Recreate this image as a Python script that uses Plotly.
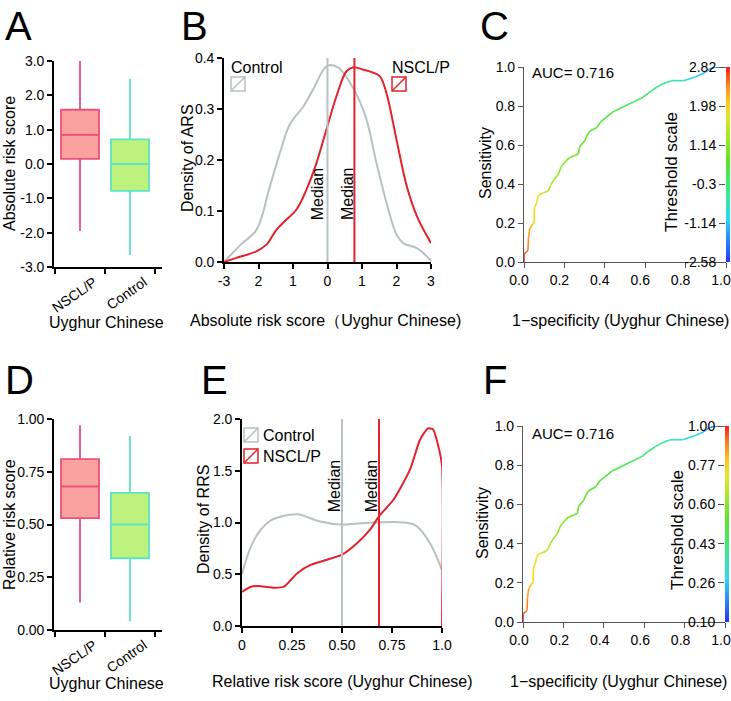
import numpy as np
import plotly.graph_objects as go
from plotly.colors import sample_colorscale

W, H = 731, 701
FONT = "Arial, Liberation Sans, sans-serif"

# ---------------- data ----------------
groups = ["NSCL/P", "Control"]
# Panel A: absolute risk score boxes
ars_q1 = [0.15, -0.78]
ars_med = [0.85, 0.0]
ars_q3 = [1.58, 0.72]
ars_lo = [-1.95, -2.65]
ars_hi = [3.0, 2.48]
ars_ticks = [-3, -2, -1, 0, 1, 2, 3]
ars_ticktext = ["-3.0", "-2.0", "-1.0", "0.0", "1.0", "2.0", "3.0"]

# Panel D: relative risk score boxes
rrs_q1 = [0.53, 0.34]
rrs_med = [0.68, 0.50]
rrs_q3 = [0.81, 0.65]
rrs_lo = [0.13, 0.04]
rrs_hi = [0.97, 0.92]
rrs_ticks = [0, 0.25, 0.5, 0.75, 1.0]
rrs_ticktext = ["0.00", "0.25", "0.50", "0.75", "1.00"]

# Panel B: density of ARS
b_ctrl_x = [-3.0, -2.5, -2.06, -1.67, -1.38, -1.09, -0.7, -0.42, 0.0, 0.33, 0.71, 1.1, 1.42, 1.71, 2.0, 2.2, 2.59, 3.0]
b_ctrl_y = [0.0, 0.035, 0.063, 0.148, 0.214, 0.27, 0.305, 0.338, 0.385, 0.38, 0.345, 0.286, 0.194, 0.116, 0.054, 0.037, 0.027, 0.003]
b_case_x = [-3.0, -2.64, -2.06, -1.77, -1.48, -1.24, -0.9, -0.61, -0.32, -0.03, 0.26, 0.55, 0.75, 1.04, 1.33, 1.52, 1.71, 2.0, 2.3, 2.59, 3.0]
b_case_y = [0.0, 0.008, 0.021, 0.034, 0.063, 0.08, 0.103, 0.142, 0.194, 0.26, 0.325, 0.374, 0.382, 0.377, 0.371, 0.364, 0.331, 0.24, 0.148, 0.09, 0.037]
b_medians = [0.0, 0.78]
b_xticks = [-3, -2, -1, 0, 1, 2, 3]
b_xticktext = ["-3", "2", "1", "0", "1", "2", "3"]
b_yticks = [0.0, 0.1, 0.2, 0.3, 0.4]

# Panel E: density of RRS
e_ctrl_x = [0.0, 0.045, 0.094, 0.144, 0.2, 0.276, 0.39, 0.5, 0.575, 0.674, 0.806, 0.87, 0.94, 1.0]
e_ctrl_y = [0.50, 0.77, 0.93, 1.02, 1.06, 1.08, 1.01, 0.98, 0.99, 1.0, 1.0, 0.97, 0.80, 0.54]
e_case_x = [0.0, 0.045, 0.094, 0.16, 0.21, 0.276, 0.343, 0.425, 0.5, 0.575, 0.64, 0.685, 0.757, 0.84, 0.89, 0.93, 0.955, 0.98, 1.0, 1.0]
e_case_y = [0.33, 0.38, 0.385, 0.37, 0.38, 0.51, 0.59, 0.64, 0.69, 0.80, 0.93, 1.06, 1.22, 1.51, 1.80, 1.91, 1.90, 1.75, 1.55, 0.0]
e_medians = [0.50, 0.685]
e_xticks = [0, 0.25, 0.5, 0.75, 1.0]
e_xticktext = ["0", "0.25", "0.50", "0.75", "1.0"]
e_yticks = [0.0, 0.5, 1.0, 1.5, 2.0]

# Panels C & F: ROC curve (same curve), with thresholds
roc_fpr = [0.0, 0.0, 0.01, 0.02, 0.022, 0.028, 0.04, 0.05, 0.052, 0.062, 0.07, 0.085, 0.10, 0.12, 0.135,
           0.15, 0.17, 0.185, 0.21, 0.225, 0.25, 0.27, 0.275, 0.30, 0.31, 0.325, 0.36, 0.38, 0.405, 0.44,
           0.49, 0.54, 0.59, 0.62, 0.655, 0.69, 0.73, 0.79, 0.85, 0.885, 0.92, 0.95, 1.0]
roc_tpr = [0.0, 0.04, 0.05, 0.06, 0.12, 0.17, 0.19, 0.20, 0.28, 0.30, 0.34, 0.35, 0.355, 0.365, 0.40,
           0.425, 0.45, 0.49, 0.52, 0.535, 0.545, 0.555, 0.59, 0.62, 0.645, 0.67, 0.69, 0.72, 0.74, 0.77,
           0.795, 0.82, 0.845, 0.87, 0.895, 0.915, 0.93, 0.93, 0.95, 0.965, 0.99, 1.0, 1.0]
thr_ars = [2.82, 2.70, 2.55, 2.45, 2.35, 2.25, 2.05, 1.98, 1.92, 1.85, 1.78, 1.65, 1.55, 1.45, 1.38,
           1.30, 1.22, 1.14, 1.02, 0.95, 0.85, 0.78, 0.75, 0.65, 0.60, 0.55, 0.45, 0.38, 0.30, 0.18,
           0.03, -0.10, -0.22, -0.30, -0.42, -0.52, -0.65, -0.85, -1.05, -1.20, -1.45, -1.75, -2.58]
thr_rrs = [1.00, 0.967, 0.926, 0.899, 0.871, 0.844, 0.789, 0.77, 0.758, 0.744, 0.730, 0.703, 0.683, 0.663, 0.649,
           0.632, 0.616, 0.60, 0.586, 0.578, 0.566, 0.558, 0.554, 0.542, 0.536, 0.530, 0.519, 0.510, 0.501, 0.487,
           0.469, 0.454, 0.440, 0.43, 0.406, 0.385, 0.359, 0.319, 0.278, 0.253, 0.226, 0.192, 0.10]
auc = 0.716
ars_thr_ticks = [-2.58, -1.14, -0.3, 1.14, 1.98, 2.82]
ars_thr_text = ["-2.58", "-1.14", "-0.3", "1.14", "1.98", "2.82"]
rrs_thr_ticks = [0.10, 0.26, 0.43, 0.60, 0.77, 1.00]
rrs_thr_text = ["0.10", "0.26", "0.43", "0.60", "0.77", "1.00"]
roc_ticks = [0, 0.2, 0.4, 0.6, 0.8, 1.0]
roc_ticktext = ["0.0", "0.2", "0.4", "0.6", "0.8", "1.0"]

# ---------------- style ----------------
CASE_FILL, CASE_LINE = "#F9A2A0", "#EE4F7C"
CTRL_FILL, CTRL_LINE = "#BDF27E", "#5EE3C2"
GRAY, RED = "#B8C2C2", "#E3222B"
RAINBOW = [[0.0, "#2530FF"], [0.12, "#2A8CFF"], [0.22, "#2ED8F5"], [0.38, "#3CEB80"],
           [0.52, "#5EE22C"], [0.65, "#A8E82A"], [0.75, "#E6E628"], [0.82, "#FFC81E"],
           [0.91, "#FF7F1E"], [1.0, "#FF1A1A"]]


def dx(a, b):
    return [a / W, b / W]


def dy(top, bottom):
    return [1 - bottom / H, 1 - top / H]


def axis(domain, anchor, **kw):
    d = dict(domain=domain, anchor=anchor, showgrid=False, zeroline=False, showline=True,
             linecolor="black", linewidth=1.6, ticks="outside", ticklen=5, tickwidth=1.5,
             tickcolor="black", tickfont=dict(size=14, color="black", family=FONT), fixedrange=True,
             automargin=False, ticklabeloverflow="allow")
    d.update(kw)
    return d


fig = go.Figure()
layout = dict(width=W, height=H, margin=dict(l=0, r=0, t=0, b=0, autoexpand=False), paper_bgcolor="white",
              plot_bgcolor="white", showlegend=False, font=dict(family=FONT, color="black"))

# axes geometry (pixels)
A_x, A_y = dx(54, 162), dy(61, 267)
B_x, B_y = dx(224, 431), dy(58, 262)
C_x, C_y = dx(524, 726), dy(67, 262)
Ccb_x = dx(726, 730)
D_x, D_y = dx(54, 162), dy(419, 630)
E_x, E_y = dx(242, 442), dy(419, 626)
F_x, F_y = dx(523, 725), dy(426, 622)
Fcb_x = dx(725, 729)

# ---- A and D boxes ----
for (xa, ya, q1, med, q3, lo, hi) in [("x", "y", ars_q1, ars_med, ars_q3, ars_lo, ars_hi),
                                       ("x5", "y5", rrs_q1, rrs_med, rrs_q3, rrs_lo, rrs_hi)]:
    for i, g in enumerate(groups):
        fill, line = (CASE_FILL, CASE_LINE) if i == 0 else (CTRL_FILL, CTRL_LINE)
        fig.add_trace(go.Box(x=[g], q1=[q1[i]], median=[med[i]], q3=[q3[i]], lowerfence=[lo[i]],
                             upperfence=[hi[i]], fillcolor=fill, line=dict(color=line, width=1.8),
                             whiskerwidth=0, width=0.76, boxpoints=False, xaxis=xa, yaxis=ya,
                             hoverinfo="skip"))

cat_axis = dict(type="category", categoryorder="array", categoryarray=groups, range=[-0.52, 1.64],
                tickson="boundaries", tickangle=-35, ticklabelshift=14,
                tickfont=dict(size=14, color="black", family=FONT))
layout["xaxis"] = axis(A_x, "y", **cat_axis)
layout["yaxis"] = axis(A_y, "x", range=[-3, 3], tickvals=ars_ticks, ticktext=ars_ticktext)
layout["xaxis5"] = axis(D_x, "y5", **cat_axis)
layout["yaxis5"] = axis(D_y, "x5", range=[0, 1], tickvals=rrs_ticks, ticktext=rrs_ticktext)

# ---- B densities ----
fig.add_trace(go.Scatter(x=b_ctrl_x, y=b_ctrl_y, mode="lines", line=dict(color=GRAY, width=2, shape="spline"),
                         xaxis="x2", yaxis="y2", hoverinfo="skip"))
fig.add_trace(go.Scatter(x=b_case_x, y=b_case_y, mode="lines", line=dict(color=RED, width=2, shape="spline"),
                         xaxis="x2", yaxis="y2", hoverinfo="skip"))
for m, c in zip(b_medians, [GRAY, RED]):
    fig.add_trace(go.Scatter(x=[m, m], y=[0, 0.405], mode="lines", line=dict(color=c, width=2),
                             xaxis="x2", yaxis="y2", hoverinfo="skip", cliponaxis=False))
layout["xaxis2"] = axis(B_x, "y2", range=[-3, 3], tickvals=b_xticks, ticktext=b_xticktext)
layout["yaxis2"] = axis(B_y, "x2", range=[0, 0.4], tickvals=b_yticks, tickformat=".1f")

# ---- E densities ----
fig.add_trace(go.Scatter(x=e_ctrl_x, y=e_ctrl_y, mode="lines", line=dict(color=GRAY, width=2, shape="spline"),
                         xaxis="x6", yaxis="y6", hoverinfo="skip"))
fig.add_trace(go.Scatter(x=e_case_x, y=e_case_y, mode="lines", line=dict(color=RED, width=2, shape="spline", smoothing=0.6),
                         xaxis="x6", yaxis="y6", hoverinfo="skip"))
for m, c in zip(e_medians, [GRAY, RED]):
    fig.add_trace(go.Scatter(x=[m, m], y=[0, 2.03], mode="lines", line=dict(color=c, width=2),
                             xaxis="x6", yaxis="y6", hoverinfo="skip", cliponaxis=False))
layout["xaxis6"] = axis(E_x, "y6", range=[0, 1], tickvals=e_xticks, ticktext=e_xticktext)
layout["yaxis6"] = axis(E_y, "x6", range=[0, 2], tickvals=e_yticks, tickformat=".1f")


# ---- ROC panels ----
def roc(xa, ya, thr, thr_ticks):
    pos = np.interp(thr, thr_ticks, np.arange(len(thr_ticks))) / (len(thr_ticks) - 1)
    for i in range(len(roc_fpr) - 1):
        c = sample_colorscale(RAINBOW, [(pos[i] + pos[i + 1]) / 2])[0]
        fig.add_trace(go.Scatter(x=[roc_fpr[i], roc_fpr[i + 1]], y=[roc_tpr[i], roc_tpr[i + 1]],
                                 mode="lines", line=dict(color=c, width=1.6), xaxis=xa, yaxis=ya,
                                 hoverinfo="skip", cliponaxis=False))


def colorbar(xa, ya, n):
    steps = np.linspace(0, n - 1, 200)
    fig.add_trace(go.Heatmap(z=[[v] for v in steps], y=steps, x=[0], colorscale=RAINBOW,
                             zmin=0, zmax=n - 1, showscale=False, xaxis=xa, yaxis=ya, hoverinfo="skip"))


roc("x3", "y3", thr_ars, ars_thr_ticks)
roc("x7", "y7", thr_rrs, rrs_thr_ticks)
colorbar("x4", "y4", len(ars_thr_ticks))
colorbar("x8", "y8", len(rrs_thr_ticks))

roc_ax = dict(range=[0, 1], tickvals=roc_ticks, ticktext=roc_ticktext, linecolor="#555555",
              linewidth=1.2, tickcolor="#555555", tickwidth=1.2)
layout["xaxis3"] = axis(C_x, "y3", ticklabelshift=-5, **roc_ax)
layout["yaxis3"] = axis(C_y, "x3", **roc_ax)
layout["xaxis7"] = axis(F_x, "y7", ticklabelshift=-4, **roc_ax)
layout["yaxis7"] = axis(F_y, "x7", **roc_ax)
cbx = dict(visible=False, range=[-0.5, 0.5])
cby = dict(showline=False, linecolor="#555555", tickcolor="#555555", tickwidth=1.2, ticklen=6, side="left")
layout["xaxis4"] = axis(Ccb_x, "y4", **cbx)
layout["yaxis4"] = axis(C_y, "x4", range=[0, 5], tickvals=list(range(6)), ticktext=ars_thr_text, **cby)
layout["xaxis8"] = axis(Fcb_x, "y8", **cbx)
layout["yaxis8"] = axis(F_y, "x8", range=[0, 5], tickvals=list(range(6)), ticktext=rrs_thr_text, **cby)

# ---------------- annotations ----------------
ann = []


def txt(x, y, s, size=16, angle=0, xanchor="center", yanchor="middle", xref="paper", yref="paper", color="black"):
    if xref == "paper":
        x = x / W
    if yref == "paper":
        y = 1 - y / H
    ann.append(dict(x=x, y=y, xref=xref, yref=yref, text=s, showarrow=False, textangle=angle,
                    xanchor=xanchor, yanchor=yanchor, font=dict(size=size, family=FONT, color=color)))


# panel letters
for L, x, y in [("A", 3, 26), ("B", 179, 26), ("C", 478, 26), ("D", 3, 380), ("E", 199, 380), ("F", 481, 380)]:
    txt(x, y, L, size=40, xanchor="left")

# axis titles
txt(9, 164, "Absolute risk score", angle=-90)
txt(106, 322, "Uyghur Chinese")
txt(188, 158, "Density of ARS", angle=-90)
txt(325, 320, "Absolute risk score\uff08Uyghur Chinese)")
txt(485, 163, "Sensitivity", angle=-90)
txt(620, 320, "1\u2212specificity (Uyghur Chinese)")
txt(9, 525, "Relative risk score", angle=-90)
txt(106, 683, "Uyghur Chinese")
txt(203, 520, "Density of RRS", angle=-90)
txt(342, 681, "Relative risk score (Uyghur Chinese)")
txt(482, 523, "Sensitivity", angle=-90)
txt(618, 681, "1\u2212specificity (Uyghur Chinese)")

# medians
for m, off in zip(b_medians, [-0.30, -0.22]):
    txt(m + off, 0.133, "Median", angle=-90, xref="x2", yref="y2", size=16)
for m, off in zip(e_medians, [-0.04, -0.04]):
    txt(m + off, 1.35, "Median", angle=-90, xref="x6", yref="y6", size=16)

# AUC and threshold scale
txt(530, 73, "AUC= %.3f" % auc, size=15, xanchor="left")
txt(530, 433, "AUC= %.3f" % auc, size=15, xanchor="left")
txt(671, 172, "Threshold scale", angle=-90, size=17)
txt(677, 530, "Threshold scale", angle=-90, size=17)

# legends
shapes = []


def legend_icon(x0, y0, color):
    shapes.append(dict(type="rect", xref="paper", yref="paper", x0=x0 / W, x1=(x0 + 14) / W,
                       y0=1 - (y0 + 14) / H, y1=1 - y0 / H, line=dict(color=color, width=1.5)))
    shapes.append(dict(type="line", xref="paper", yref="paper", x0=x0 / W, x1=(x0 + 14) / W,
                       y0=1 - (y0 + 14) / H, y1=1 - y0 / H, line=dict(color=color, width=1.5)))


txt(229, 67, "Control", xanchor="left")
legend_icon(231, 77, GRAY)
txt(390, 67, "NSCL/P", xanchor="left")
legend_icon(392, 77, RED)
legend_icon(244, 428, GRAY)
txt(261, 435, "Control", xanchor="left")
legend_icon(244, 449, RED)
txt(261, 456, "NSCL/P", xanchor="left")

layout["annotations"] = ann
layout["shapes"] = shapes
fig.update_layout(**layout)
fig.write_html("out.html", config={"displayModeBar": False},
               post_script="document.body.style.margin='0';document.body.style.overflow='hidden';")
